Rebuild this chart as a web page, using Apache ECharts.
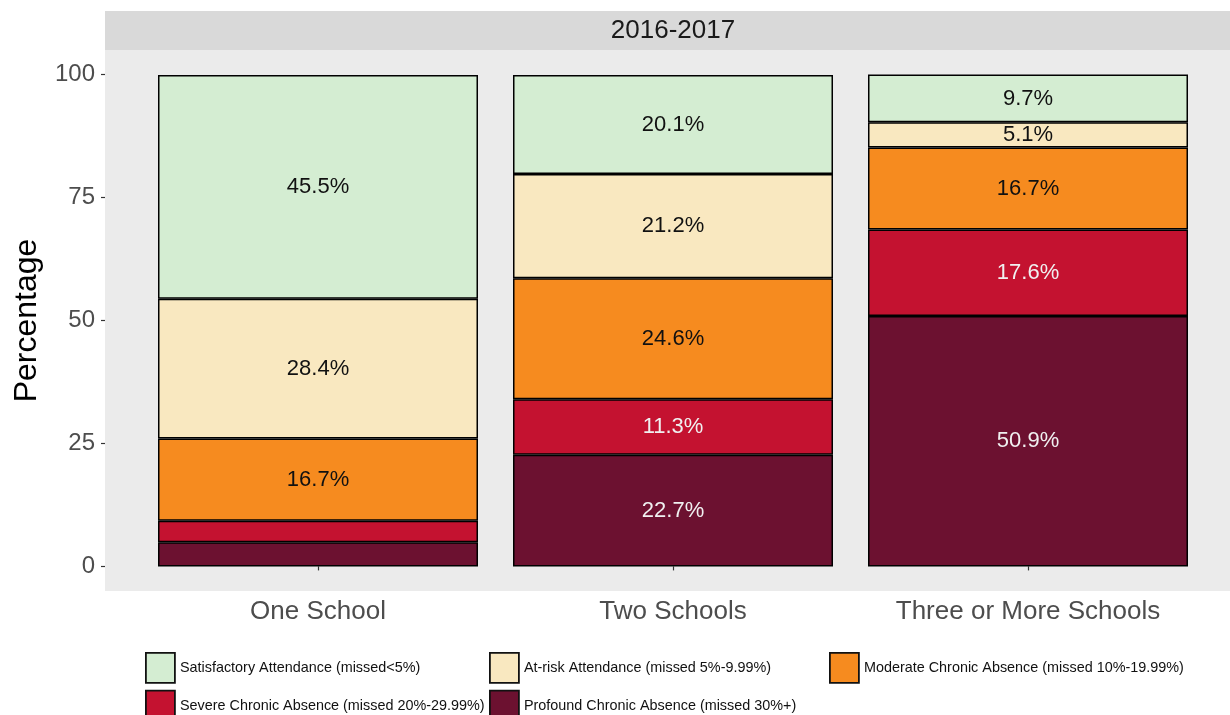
<!DOCTYPE html>
<html>
<head>
<meta charset="utf-8">
<script src="https://cdn.jsdelivr.net/npm/echarts@6/dist/echarts.min.js"></script>
<style>html,body{margin:0;padding:0;background:#fff;}#c{width:1230px;height:715px;}</style>
</head>
<body>
<div id="c"></div>
<script>
const categories = ['One School', 'Two Schools', 'Three or More Schools'];
const yTicks = [0, 25, 50, 75, 100];
const facetTitle = '2016-2017';
const seriesNames = [
  'Profound Chronic Absence (missed 30%+)',
  'Severe Chronic Absence (missed 20%-29.99%)',
  'Moderate Chronic Absence (missed 10%-19.99%)',
  'At-risk Attendance (missed 5%-9.99%)',
  'Satisfactory Attendance (missed<5%)'
];
const profound = [4.9, 22.7, 50.9];
const severe = [4.4, 11.3, 17.6];
const moderate = [16.7, 24.6, 16.7];
const atRisk = [28.4, 21.2, 5.1];
const satisfactory = [45.5, 20.1, 9.7];

const seriesValues = [profound, severe, moderate, atRisk, satisfactory];
const colors = ['#6C1130', '#C41230', '#F68B1F', '#F9E8C0', '#D4EDD2'];
const labelColors = ['#f0f0f0', '#f0f0f0', '#111', '#111', '#111'];

const chart = echarts.init(document.getElementById('c'));

const series = seriesValues.map((vals, i) => ({
  name: seriesNames[i],
  type: 'bar',
  stack: 'total',
  barWidth: 320,
  z: 3,
  itemStyle: { color: colors[i], borderColor: '#000', borderWidth: 1.5 },
  label: {
    show: true,
    position: 'inside',
    fontFamily: 'Liberation Sans, Arial, sans-serif',
    fontSize: 22,
    color: labelColors[i],
    formatter: p => p.value >= 5 ? p.value.toFixed(1) + '%' : ''
  },
  data: vals
}));

const legendText = { fontFamily: 'Liberation Sans, Arial, sans-serif', fontSize: 14.4, color: '#111' };
const legendBase = {
  orient: 'vertical', itemWidth: 29, itemHeight: 30, itemGap: 6, height: 120,
  icon: 'rect', padding: 0,
  textStyle: legendText, selectedMode: false,
  itemStyle: { borderColor: '#111', borderWidth: 1.8 }
};

chart.setOption({
  animation: false,
  graphic: [
    { type: 'rect', z: -10, silent: true, shape: { x: 105, y: 50, width: 1136, height: 541 }, style: { fill: '#EBEBEB' } },
    { type: 'rect', z: -10, silent: true, shape: { x: 105, y: 11, width: 1136, height: 39 }, style: { fill: '#D9D9D9' } },
    { type: 'text', z: 10, silent: true, x: 673, y: 31, style: { text: facetTitle, fill: '#1a1a1a', font: '26px Liberation Sans, Arial, sans-serif', align: 'center', verticalAlign: 'middle' } }
  ],
  grid: { left: 140.5, right: 24.5, top: 50, bottom: 124, containLabel: false },
  xAxis: {
    type: 'category',
    data: categories,
    axisLine: { show: false },
    axisTick: { show: true, alignWithLabel: true, length: 4, lineStyle: { color: '#333', width: 1.2 } },
    axisLabel: { fontFamily: 'Liberation Sans, Arial, sans-serif', fontSize: 26, color: '#4d4d4d', margin: 8 }
  },
  yAxis: {
    type: 'value',
    min: -5, max: 105,
    offset: 35.5,
    splitLine: { show: false },
    axisLine: { show: false },
    axisTick: { show: true, length: 4, customValues: yTicks, lineStyle: { color: '#333', width: 1.2 } },
    axisLabel: { customValues: yTicks, fontFamily: 'Liberation Sans, Arial, sans-serif', fontSize: 24, color: '#4d4d4d', margin: 10 },
    name: 'Percentage',
    nameLocation: 'middle',
    nameGap: 62,
    nameTextStyle: { fontFamily: 'Liberation Sans, Arial, sans-serif', fontSize: 32, color: '#000' }
  },
  legend: [
    Object.assign({ left: 145, top: 652, data: [seriesNames[4], seriesNames[1]] }, legendBase),
    Object.assign({ left: 489, top: 652, data: [seriesNames[3], seriesNames[0]] }, legendBase),
    Object.assign({ left: 829, top: 652, data: [seriesNames[2]] }, legendBase)
  ],
  series: series
});
</script>
</body>
</html>
